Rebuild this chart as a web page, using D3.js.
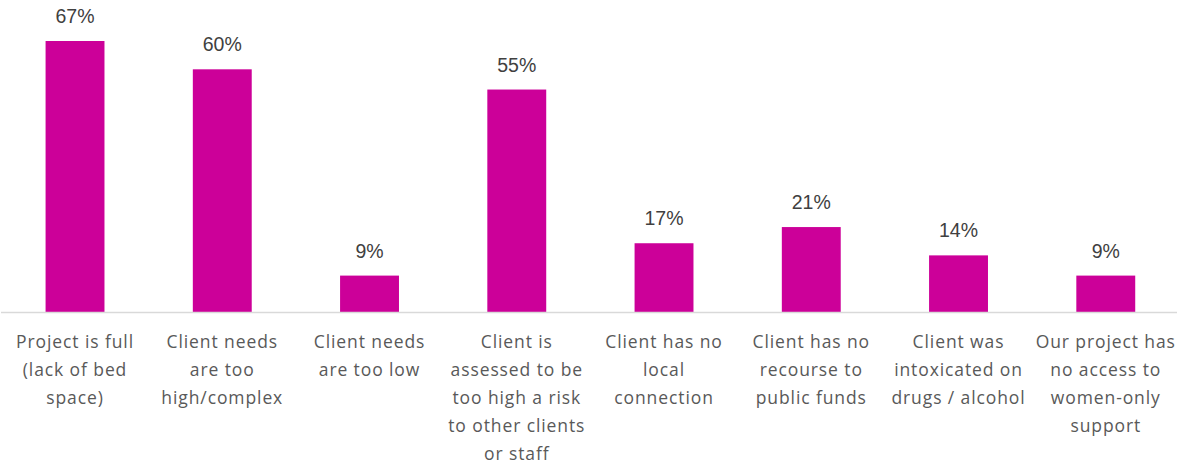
<!DOCTYPE html>
<html>
<head>
<meta charset="utf-8">
<script src="https://cdn.jsdelivr.net/npm/d3@7"></script>
<style>
  html, body { margin: 0; padding: 0; background: #ffffff; }
  svg { display: block; }
</style>
</head>
<body>
<svg id="chart" width="1177" height="461"></svg>
<script>
// Reasons a referral was turned down (share of projects)
const categories = [
  "Project is full\n(lack of bed\nspace)",
  "Client needs\nare too\nhigh/complex",
  "Client needs\nare too low",
  "Client is\nassessed to be\ntoo high a risk\nto other clients\nor staff",
  "Client has no\nlocal\nconnection",
  "Client has no\nrecourse to\npublic funds",
  "Client was\nintoxicated on\ndrugs / alcohol",
  "Our project has\nno access to\nwomen-only\nsupport"
];
const values = [67, 60, 9, 55, 17, 21, 14, 9];

const width = 1177, height = 461;
const baseY = 312, topY = 41;

const svg = d3.select("#chart");

const x = d3.scaleBand()
  .domain(categories)
  .range([1.4, 1179.4])
  .paddingInner(0.6)
  .paddingOuter(0.3);

const y = d3.scaleLinear()
  .domain([0, d3.max(values)])
  .range([baseY, topY]);

// bars
svg.append("g")
  .selectAll("rect")
  .data(values)
  .join("rect")
  .attr("x", (d, i) => x(categories[i]))
  .attr("y", d => y(d))
  .attr("width", x.bandwidth())
  .attr("height", d => baseY - y(d))
  .attr("fill", "#cc0099");

// category axis line
svg.append("line")
  .attr("x1", 1).attr("x2", 1177)
  .attr("y1", baseY + 0.5).attr("y2", baseY + 0.5)
  .attr("stroke", "#d9d9d9")
  .attr("stroke-width", 1.5);

// value labels
svg.append("g")
  .selectAll("text")
  .data(values)
  .join("text")
  .attr("x", (d, i) => x(categories[i]) + x.bandwidth() / 2)
  .attr("y", d => y(d) - 18)
  .attr("text-anchor", "middle")
  .attr("font-family", "'Liberation Sans', Arial, sans-serif")
  .attr("font-size", 19.5)
  .attr("fill", "#404040")
  .text(d => d + "%");

// category labels (pre-wrapped lines)
const lab = svg.append("g")
  .selectAll("text")
  .data(categories)
  .join("text")
  .attr("x", d => x(d) + x.bandwidth() / 2)
  .attr("y", 347.5)
  .attr("text-anchor", "middle")
  .attr("font-family", "'Open Sans', sans-serif")
  .attr("font-size", 17.5)
  .attr("letter-spacing", 0.9)
  .attr("fill", "#595959");

lab.selectAll("tspan")
  .data(d => d.split("\n").map(t => ({ t, cx: x(d) + x.bandwidth() / 2 })))
  .join("tspan")
  .attr("x", d => d.cx)
  .attr("dy", (d, i) => i === 0 ? 0 : 28.1)
  .text(d => d.t);
</script>
</body>
</html>
